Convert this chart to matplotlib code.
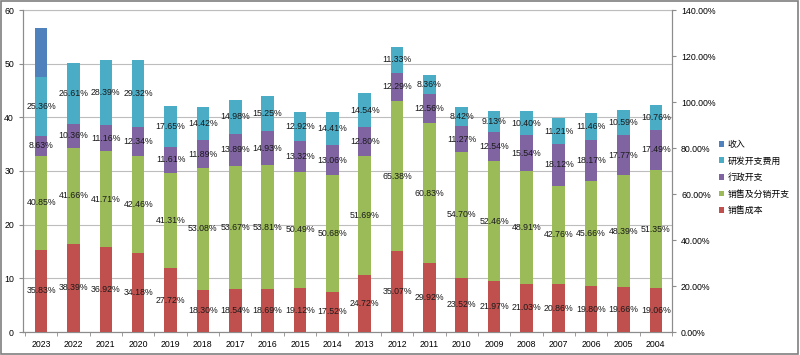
import matplotlib
matplotlib.use("Agg")
import matplotlib.pyplot as plt
import numpy as np
from matplotlib.patches import Rectangle
from matplotlib.ticker import FuncFormatter

plt.rcParams['font.family'] = ['Liberation Sans', 'Noto Sans CJK SC', 'DejaVu Sans']

years = ["2023", "2022", "2021", "2020", "2019", "2018", "2017", "2016", "2015", "2014",
         "2013", "2012", "2011", "2010", "2009", "2008", "2007", "2006", "2005", "2004"]

# percent of revenue
cost_of_sales = [35.83, 38.39, 36.92, 34.18, 27.72, 18.30, 18.54, 18.69, 19.12, 17.52,
                 24.72, 35.07, 29.92, 23.52, 21.97, 21.03, 20.86, 19.80, 19.66, 19.06]
selling = [40.85, 41.66, 41.71, 42.46, 41.31, 53.08, 53.67, 53.81, 50.49, 50.68,
           51.69, 65.38, 60.83, 54.70, 52.46, 48.91, 42.76, 45.66, 48.39, 51.35]
admin = [8.63, 10.36, 11.16, 12.34, 11.61, 11.89, 13.89, 14.93, 13.32, 13.06,
         12.80, 12.29, 12.56, 11.27, 12.54, 15.54, 18.12, 18.17, 17.77, 17.49]
rnd = [25.36, 26.61, 28.39, 29.32, 17.65, 14.42, 14.98, 15.25, 12.92, 14.41,
       14.54, 11.33, 8.36, 8.42, 9.13, 10.40, 11.21, 11.46, 10.59, 10.76]
# no label on this one
revenue = [21.7, 0, 0, 0, 0, 0, 0, 0, 0, 0, 0, 0, 0, 0, 0, 0, 0, 0, 0, 0]

series = [
    ("销售成本", cost_of_sales, "#C0504D", True),
    ("销售及分销开支", selling, "#9BBB59", True),
    ("行政开支", admin, "#8064A2", True),
    ("研发开支费用", rnd, "#4BACC6", True),
    ("收入", revenue, "#4F81BD", False),
]

fig = plt.figure(figsize=(8, 3.55), dpi=100)
ax = fig.add_axes([23 / 800, 23 / 355, 649 / 800, 322 / 355])
ax2 = ax.twinx()

x = np.arange(len(years))
bottom = np.zeros(len(years))
handles = []
for name, vals, color, labelled in series:
    vals = np.array(vals)
    b = ax2.bar(x, vals, 0.39, bottom=bottom, color=color, label=name, zorder=3)
    handles.append(b)
    if labelled:
        for xi, v, b0 in zip(x, vals, bottom):
            ax2.text(xi, b0 + v / 2, f"{v:.2f}%", ha="center", va="center",
                     fontsize=6.3, color="#1a1a1a", zorder=4)
    bottom += vals

grey = "#8c8c8c"
ax.set_ylim(0, 60)
ax.set_yticks(range(0, 61, 10))
ax.yaxis.grid(True, color="#bdbdbd", linewidth=0.8)
ax.set_axisbelow(True)
ax2.set_ylim(0, 140)
ax2.set_yticks(range(0, 141, 20))
ax2.yaxis.set_major_formatter(FuncFormatter(lambda v, p: f"{v:.2f}%"))
ax.set_xlim(-0.56, 19.5)
ax.set_xticks(x)
ax.set_xticklabels(years)
ax.set_xticks(np.arange(-0.5, 20, 1), minor=True)
ax.tick_params(axis="x", which="major", length=0, labelsize=6.3, pad=6)
ax.tick_params(axis="x", which="minor", length=3, color=grey, direction="out")
ax.tick_params(axis="y", labelsize=6.3, length=3, color=grey)
ax2.tick_params(axis="y", labelsize=6.3, length=3, color=grey)

for a in (ax, ax2):
    for s in a.spines.values():
        s.set_visible(False)
    for side in ("left", "right", "bottom"):
        a.spines[side].set_visible(True)
        a.spines[side].set_color(grey)
ax.spines["top"].set_visible(True)
ax.spines["top"].set_color("#bdbdbd")

leg = fig.legend(handles[::-1], [s[0] for s in series][::-1], loc="center left",
                 bbox_to_anchor=(0.894, 0.5), frameon=False, fontsize=6.4,
                 handlelength=0.6, handleheight=0.6, handletextpad=0.4,
                 labelspacing=0.85, borderaxespad=0)

fig.patches.append(Rectangle((0.001, 0.002), 0.997, 0.995, transform=fig.transFigure,
                             fill=False, edgecolor="#7f7f7f", linewidth=1.2))

fig.savefig("out.png", dpi=100)
